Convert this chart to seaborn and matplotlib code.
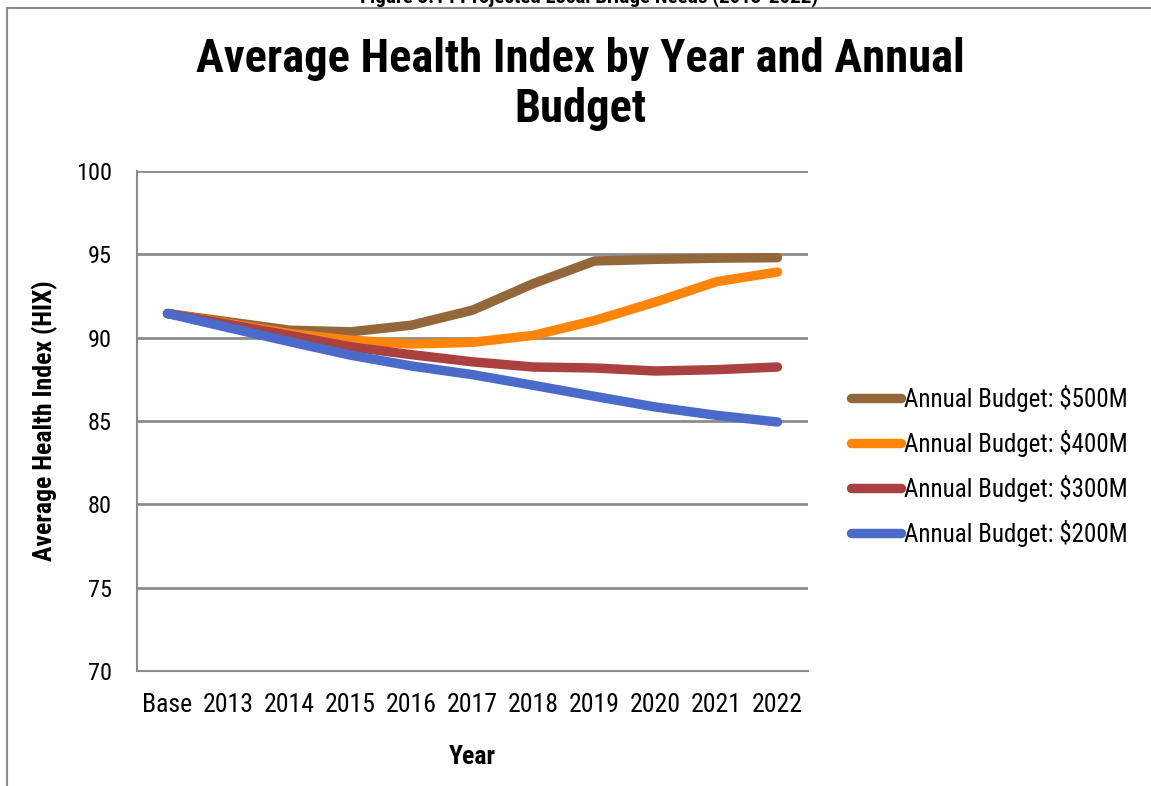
import matplotlib
matplotlib.use("Agg")
import matplotlib.pyplot as plt
from matplotlib.patches import Rectangle
import seaborn as sns
import pandas as pd

years = ["Base", "2013", "2014", "2015", "2016", "2017", "2018", "2019", "2020", "2021", "2022"]
budget_500 = [91.45, 90.95, 90.45, 90.35, 90.75, 91.65, 93.25, 94.6, 94.7, 94.77, 94.8]
budget_400 = [91.45, 90.85, 90.25, 89.85, 89.62, 89.72, 90.14, 91.03, 92.14, 93.36, 93.94]
budget_300 = [91.45, 90.8, 90.14, 89.45, 88.98, 88.55, 88.24, 88.18, 88.0, 88.08, 88.24]
budget_200 = [91.45, 90.6, 89.76, 88.95, 88.3, 87.78, 87.14, 86.48, 85.84, 85.34, 84.94]
series_names = ["Annual Budget: $500M", "Annual Budget: $400M",
                "Annual Budget: $300M", "Annual Budget: $200M"]
series_colors = ["#94673A", "#FF8508", "#AB4040", "#4A6BC9"]
y_ticks = [70, 75, 80, 85, 90, 95, 100]

df = pd.concat([
    pd.DataFrame({"Year": years, "HIX": vals, "Series": name})
    for name, vals in zip(series_names, [budget_500, budget_400, budget_300, budget_200])
], ignore_index=True)
df["pos"] = df["Year"].map({y: i for i, y in enumerate(years)})

sns.set_theme(style="white")
plt.rcParams["font.family"] = ["Roboto Condensed", "Archivo Narrow", "DejaVu Sans"]
plt.rcParams["text.color"] = "black"
plt.rcParams["axes.labelcolor"] = "black"
plt.rcParams["xtick.color"] = "black"
plt.rcParams["ytick.color"] = "black"

fig = plt.figure(figsize=(11.51, 7.86), dpi=100)
ax = fig.add_axes([137 / 1151, 1 - 671 / 786, (808 - 137) / 1151, 500 / 786])

# frame of the chart area
fig.patches.append(Rectangle((7 / 1151, -0.1), 1.2, 1 - 8 / 786 + 0.1,
                             transform=fig.transFigure, fill=False,
                             edgecolor="#8c8c8c", linewidth=1.5))
fig.text(0.512, 1.004, "Figure 3.14 Projected Local Bridge Needs (2013-2022)",
         ha="center", va="center", fontsize=15, fontweight="bold")

sns.lineplot(data=df, x="pos", y="HIX", hue="Series", palette=series_colors,
             hue_order=series_names, linewidth=6.8, ax=ax, legend=True,
             sort=False, estimator=None)
for ln in ax.lines:
    ln.set_solid_capstyle("round")
    ln.set_solid_joinstyle("round")

ax.set_xlim(-0.5, len(years) - 0.5)
ax.set_ylim(70, 100)
ax.set_yticks(y_ticks)
ax.set_yticklabels([str(t) for t in y_ticks], fontsize=17.5)
ax.set_xticks(range(len(years)))
ax.set_xticklabels(years, fontsize=18.5)
ax.set_xticks([i - 0.5 for i in range(len(years) + 1)], minor=True)
ax.tick_params(axis="x", which="major", length=0, pad=16)
ax.tick_params(axis="x", which="minor", length=10, width=1.5, color="#8c8c8c", direction="out")
ax.tick_params(axis="y", length=10, width=1.5, color="#8c8c8c", direction="out", pad=8)
ax.grid(axis="y", color="#8c8c8c", linewidth=2)
ax.grid(axis="x", visible=False)
ax.set_axisbelow(True)
for side in ["top", "right"]:
    ax.spines[side].set_visible(False)
for side in ["left", "bottom"]:
    ax.spines[side].set_color("#8c8c8c")
    ax.spines[side].set_linewidth(1.5)

ax.set_xlabel("Year", fontsize=18.5, fontweight=600, labelpad=20)
ax.set_ylabel("Average Health Index (HIX)", fontsize=18.5, fontweight=600, labelpad=13)

fig.text(0.504, 0.893, "Average Health Index by Year and Annual\nBudget",
         ha="center", va="center", fontsize=33.5, fontweight=600,
         linespacing=1.18)

leg = ax.legend(loc="center left", bbox_to_anchor=(1.0, 0.41), frameon=False,
                fontsize=18, handlelength=2.0, handletextpad=0.15,
                labelspacing=0.72, borderaxespad=1.7, borderpad=0)
for h in leg.get_lines():
    h.set_linewidth(6.8)
    h.set_solid_capstyle("round")

fig.savefig("out.png", dpi=100)
